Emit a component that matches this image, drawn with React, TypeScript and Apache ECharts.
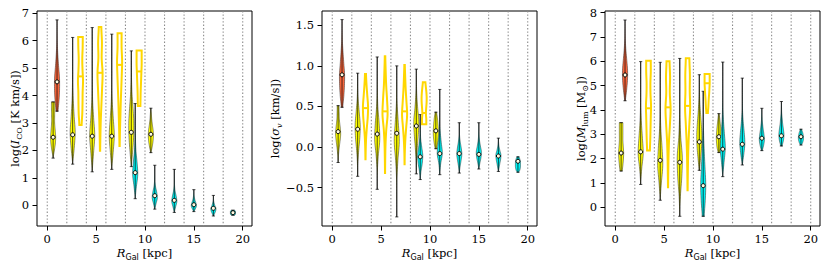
import React, { useEffect, useRef } from "react";
import * as echarts from "echarts";

// ---------- shared layout of the violins ----------
const violinX = [0.6, 1.0, 2.6, 3.4, 4.6, 5.4, 6.6, 7.4, 8.6, 9.0, 9.4, 10.6, 11.0, 13.0, 15.0, 17.0, 19.0];
const violinKind = ["yellow", "red", "yellow", "gold", "yellow", "gold", "yellow", "gold", "yellow", "cyan", "gold", "yellow", "cyan", "cyan", "cyan", "cyan", "cyan"];
const binEdges = [0, 2, 4, 6, 8, 10, 12, 14, 16, 18, 20];
const xTicks = [0, 5, 10, 15, 20];

// ---------- panel 1: log(I_CO) ----------
const icoMin = [1.72, 3.43, 1.5, 2.93, 1.22, 1.99, 1.31, 2.16, 1.41, 0.24, 3.62, 1.92, -0.14, -0.26, -0.23, -0.39, -0.36];
const icoMax = [3.77, 6.76, 6.12, 6.14, 6.48, 6.5, 6.24, 6.27, 5.63, 3.71, 5.64, 3.54, 1.46, 1.31, 0.57, 0.36, -0.18];
const icoMed = [2.48, 4.5, 2.57, 4.7, 2.52, 4.83, 2.52, 5.12, 2.66, 1.19, 4.88, 2.59, 0.35, 0.18, 0.02, -0.11, -0.27];
const icoShape = [
  [0, 0.45, 0.85, 1.0, 0.8, 0.6, 0.6, 0.65, 0.65],
  [0.4, 0.8, 1.0, 0.95, 0.6, 0.3, 0.1, 0.04, 0.02],
  [0.02, 0.6, 1.0, 0.6, 0.25, 0.08, 0.04, 0.02, 0.01],
  [0.45, 0.7, 0.8, 0.85, 1.0, 0.8, 0.7, 0.85, 0.9],
  [0.02, 0.5, 1.0, 0.55, 0.15, 0.05, 0.03, 0.02, 0.01],
  [0.05, 0.15, 0.3, 0.55, 0.8, 1.0, 0.65, 0.75, 0.5],
  [0.02, 0.55, 1.0, 0.6, 0.2, 0.06, 0.03, 0.02, 0.01],
  [0.05, 0.15, 0.3, 0.45, 0.65, 0.85, 1.0, 0.8, 0.8],
  [0.05, 0.5, 0.9, 1.0, 0.7, 0.3, 0.1, 0.04, 0.02],
  [0.02, 0.45, 1.0, 0.75, 0.3, 0.1, 0.04, 0.02, 0.01],
  [0.5, 0.55, 0.6, 0.7, 0.8, 0.9, 1.0, 1.0, 1.0],
  [0.1, 0.5, 0.85, 1.0, 0.9, 0.6, 0.35, 0.2, 0.05],
  [0.05, 0.5, 1.0, 0.8, 0.35, 0.1, 0.04, 0.02, 0.01],
  [0.05, 0.5, 1.0, 0.75, 0.3, 0.1, 0.04, 0.02, 0.01],
  [0.1, 0.6, 1.0, 0.85, 0.5, 0.25, 0.1, 0.04, 0.01],
  [0.1, 0.5, 0.9, 1.0, 0.6, 0.3, 0.1, 0.04, 0.01],
  [0.6, 0.9, 1.0, 1.0, 1.0, 1.0, 1.0, 0.9, 0.6],
];
const icoTicks = [0, 1, 2, 3, 4, 5, 6, 7];

// ---------- panel 2: log(sigma_v) ----------
const sigMin = [-0.19, 0.49, -0.36, -0.15, -0.52, -0.32, -0.86, -0.21, -0.33, -0.4, 0.28, -0.02, -0.34, -0.32, -0.27, -0.3, -0.31];
const sigMax = [0.51, 1.57, 0.91, 0.9, 1.11, 1.12, 1.0, 1.01, 0.96, 0.4, 0.8, 0.43, 0.71, 0.3, 0.3, 0.11, -0.12];
const sigMed = [0.19, 0.89, 0.22, 0.48, 0.16, 0.44, 0.17, 0.44, 0.26, -0.12, 0.42, 0.2, -0.08, -0.08, -0.09, -0.11, -0.175];
const sigShape = [
  [0.02, 0.15, 0.4, 0.75, 1.0, 0.8, 0.5, 0.4, 0.35],
  [0.3, 0.7, 0.95, 1.0, 0.7, 0.4, 0.15, 0.05, 0.02],
  [0.02, 0.1, 0.4, 0.85, 1.0, 0.6, 0.2, 0.06, 0.02],
  [0.03, 0.1, 0.25, 0.55, 0.9, 1.0, 0.7, 0.4, 0.2],
  [0.01, 0.05, 0.4, 1.0, 0.75, 0.25, 0.06, 0.02, 0.01],
  [0.02, 0.08, 0.2, 0.5, 1.0, 0.8, 0.45, 0.25, 0.1],
  [0.01, 0.02, 0.08, 0.45, 1.0, 0.6, 0.15, 0.04, 0.01],
  [0.02, 0.1, 0.3, 0.65, 1.0, 0.75, 0.45, 0.25, 0.1],
  [0.02, 0.1, 0.4, 0.8, 1.0, 0.55, 0.2, 0.05, 0.02],
  [0.03, 0.3, 0.8, 1.0, 0.6, 0.2, 0.06, 0.02, 0.01],
  [0.85, 0.85, 0.7, 0.8, 0.95, 1.0, 0.9, 0.7, 0.5],
  [0.3, 0.6, 0.85, 1.0, 1.0, 0.9, 0.75, 0.55, 0.3],
  [0.03, 0.35, 1.0, 0.6, 0.2, 0.06, 0.02, 0.01, 0.01],
  [0.03, 0.3, 0.7, 1.0, 0.75, 0.35, 0.1, 0.03, 0.01],
  [0.05, 0.4, 0.85, 1.0, 0.6, 0.25, 0.08, 0.03, 0.01],
  [0.05, 0.3, 0.6, 0.9, 1.0, 0.6, 0.25, 0.08, 0.02],
  [0.3, 0.7, 0.9, 1.0, 1.0, 1.0, 0.9, 0.7, 0.4],
];
const sigTicks = [-0.5, 0.0, 0.5, 1.0, 1.5];

// ---------- panel 3: log(M_lum) ----------
const mlumMin = [1.49, 4.38, 0.94, 2.33, 0.29, 0.82, -0.37, 0.7, 1.52, -0.37, 3.88, 2.25, 1.26, 1.74, 2.33, 2.52, 2.56];
const mlumMax = [3.48, 7.7, 5.99, 6.02, 5.96, 6.0, 6.12, 6.13, 5.45, 4.77, 5.48, 3.85, 5.97, 5.31, 4.07, 4.35, 3.21];
const mlumMed = [2.23, 5.44, 2.28, 4.07, 1.93, 4.11, 1.85, 4.17, 2.69, 0.89, 5.1, 2.9, 2.39, 2.59, 2.84, 2.94, 2.9];
const mlumShape = [
  [0.45, 0.7, 0.9, 1.0, 0.85, 0.7, 0.7, 0.7, 0.7],
  [0.15, 0.6, 0.95, 1.0, 0.7, 0.35, 0.12, 0.04, 0.01],
  [0.02, 0.4, 1.0, 0.7, 0.3, 0.08, 0.03, 0.02, 0.01],
  [0.55, 0.7, 0.8, 0.9, 1.0, 0.8, 0.75, 0.9, 0.9],
  [0.02, 0.45, 1.0, 0.75, 0.3, 0.07, 0.03, 0.02, 0.01],
  [0.03, 0.1, 0.2, 0.4, 0.75, 1.0, 0.7, 0.8, 0.6],
  [0.01, 0.25, 0.8, 1.0, 0.4, 0.1, 0.03, 0.02, 0.01],
  [0.03, 0.1, 0.2, 0.4, 0.7, 1.0, 0.85, 0.9, 0.7],
  [0.1, 0.5, 0.9, 1.0, 0.75, 0.4, 0.15, 0.05, 0.02],
  [0.4, 0.8, 1.0, 0.75, 0.45, 0.2, 0.06, 0.02, 0.01],
  [0.3, 0.45, 0.55, 0.65, 0.8, 0.9, 1.0, 1.0, 1.0],
  [0.3, 0.7, 0.9, 1.0, 0.9, 0.75, 0.55, 0.35, 0.15],
  [0.02, 0.5, 1.0, 0.65, 0.25, 0.06, 0.02, 0.01, 0.01],
  [0.05, 0.6, 1.0, 0.75, 0.35, 0.1, 0.03, 0.01, 0.01],
  [0.2, 0.7, 1.0, 0.85, 0.55, 0.3, 0.12, 0.05, 0.02],
  [0.3, 0.8, 1.0, 0.8, 0.5, 0.3, 0.12, 0.05, 0.02],
  [0.2, 0.6, 0.85, 1.0, 1.0, 0.9, 0.75, 0.5, 0.25],
];
const mlumTicks = [0, 1, 2, 3, 4, 5, 6, 7, 8];

// ---------- styling ----------
const HALF_WIDTH = 0.26; // kpc
const fillColors: Record<string, string> = {
  yellow: "#ffff00",
  red: "#f8663c",
  cyan: "#00f4f4",
};
const GOLD = "#ffd700";
const SERIF = "DejaVu Serif";
const FS = 11.5;

function catmull(vals: number[], sub: number): number[] {
  const out: number[] = [];
  const n = vals.length;
  for (let k = 0; k < n - 1; k++) {
    const p0 = vals[Math.max(0, k - 1)];
    const p1 = vals[k];
    const p2 = vals[k + 1];
    const p3 = vals[Math.min(n - 1, k + 2)];
    for (let s = 0; s < sub; s++) {
      const t = s / sub;
      const t2 = t * t;
      const t3 = t2 * t;
      const v =
        0.5 *
        (2 * p1 + (-p0 + p2) * t + (2 * p0 - 5 * p1 + 4 * p2 - p3) * t2 + (-p0 + 3 * p1 - 3 * p2 + p3) * t3);
      out.push(Math.max(0, v));
    }
  }
  out.push(vals[n - 1]);
  return out;
}

function widthAt(shape: number[], lo: number, hi: number, y: number): number {
  const n = shape.length;
  const f = ((y - lo) / (hi - lo)) * (n - 1);
  const k = Math.max(0, Math.min(n - 2, Math.floor(f)));
  const t = Math.max(0, Math.min(1, f - k));
  return shape[k] * (1 - t) + shape[k + 1] * t;
}

function violinSeries(gridIdx: number, mins: number[], maxs: number[], meds: number[], shapes: number[][]) {
  return {
    type: "custom",
    xAxisIndex: gridIdx,
    yAxisIndex: gridIdx,
    clip: true,
    z: 3,
    data: violinX.map((x, i) => [x, meds[i]]),
    encode: { x: 0, y: 1 },
    renderItem: (params: any, api: any) => {
      const i = params.dataIndex;
      const x = violinX[i];
      const kind = violinKind[i];
      const lo = mins[i];
      const hi = maxs[i];
      const med = meds[i];
      const shape = shapes[i];
      const hpx = api.size([HALF_WIDTH, 0])[0];
      const cx = api.coord([x, med])[0];
      const sub = 6;
      const ws = catmull(shape, sub);
      const m = ws.length;
      const left: number[][] = [];
      const right: number[][] = [];
      for (let j = 0; j < m; j++) {
        const y = lo + ((hi - lo) * j) / (m - 1);
        const py = api.coord([x, y])[1];
        left.push([cx - ws[j] * hpx, py]);
        right.push([cx + ws[j] * hpx, py]);
      }
      const pts = left.concat(right.reverse());
      const pyLo = api.coord([x, lo])[1];
      const pyHi = api.coord([x, hi])[1];
      const pyMed = api.coord([x, med])[1];
      const children: any[] = [];
      if (kind === "gold") {
        const wm = widthAt(shape, lo, hi, med) * hpx;
        children.push({
          type: "polygon",
          shape: { points: pts },
          style: { fill: "none", stroke: GOLD, lineWidth: 2 },
        });
        children.push({
          type: "line",
          shape: { x1: cx - wm, y1: pyMed, x2: cx + wm, y2: pyMed },
          style: { stroke: GOLD, lineWidth: 2 },
        });
      } else {
        children.push({
          type: "polygon",
          shape: { points: pts },
          style: { fill: fillColors[kind], stroke: "#222", lineWidth: 0.5 },
        });
        const ws2 = { stroke: "rgba(0,0,0,0.68)", lineWidth: 1.0 };
        children.push({ type: "line", shape: { x1: cx, y1: pyLo, x2: cx, y2: pyHi }, style: ws2 });
        children.push({ type: "line", shape: { x1: cx - 1.6, y1: pyLo, x2: cx + 1.6, y2: pyLo }, style: ws2 });
        children.push({ type: "line", shape: { x1: cx - 1.6, y1: pyHi, x2: cx + 1.6, y2: pyHi }, style: ws2 });
        children.push({
          type: "circle",
          shape: { cx, cy: pyMed, r: 2 },
          style: { fill: "#fffbe0", stroke: "#000", lineWidth: 1 },
        });
      }
      return { type: "group", children };
    },
  };
}

function gridLineSeries(gridIdx: number) {
  return {
    type: "custom",
    xAxisIndex: gridIdx,
    yAxisIndex: gridIdx,
    z: 1,
    silent: true,
    data: binEdges.map((x) => [x, 0]),
    encode: { x: 0 },
    renderItem: (params: any, api: any) => {
      const cs = params.coordSys;
      const px = api.coord([api.value(0), 0])[0];
      return {
        type: "line",
        shape: { x1: px, y1: cs.y, x2: px, y2: cs.y + cs.height },
        style: { stroke: "#8a8a8a", lineWidth: 1.1, lineDash: [1.4, 2.0] },
      };
    },
  };
}

const gridLefts = [37, 322, 605];
const yRanges = [
  [-0.755, 7.084],
  [-0.972, 1.676],
  [-0.769, 8.07],
];
const yTickSets = [icoTicks, sigTicks, mlumTicks];

const richBase = {
  n: { fontFamily: SERIF, fontSize: FS, lineHeight: 16, fill: "#000" },
  i: { fontFamily: SERIF, fontStyle: "italic", fontSize: FS, lineHeight: 16, fill: "#000" },
  s: { fontFamily: SERIF, fontSize: 8, lineHeight: 9, verticalAlign: "bottom", fill: "#000" },
  si: { fontFamily: SERIF, fontStyle: "italic", fontSize: 8, lineHeight: 9, verticalAlign: "bottom", fill: "#000" },
  ss: { fontFamily: "DejaVu Sans", fontSize: 8, lineHeight: 9, verticalAlign: "bottom", fill: "#000" },
};

const yNames = [
  "{n|log(}{i|I}{s|CO}{n| [K km/s])}",
  "{n|log(}{i|σ}{si|v}{n| [km/s])}",
  "{n|log(}{i|M}{s|lum}{n| [M}{s|⊙}{n|])}",
];
const yNameX = [15, 275, 581];
const xName = "{i|R}{ss|Gal}{n| [kpc]}";

export default function App() {
  const ref = useRef<HTMLDivElement>(null);
  useEffect(() => {
    if (!ref.current) return;
    const chart = echarts.init(ref.current, undefined, { renderer: "svg" });
    const grids = gridLefts.map((l) => ({
      left: l,
      top: 11,
      width: 215,
      height: 215,
      show: true,
      borderColor: "#000",
      borderWidth: 1,
      backgroundColor: "transparent",
    }));
    const xAxes = gridLefts.map((_, g) => ({
      type: "value",
      gridIndex: g,
      position: "bottom",
      min: -1.05,
      max: 20.95,
      axisLine: { show: false, onZero: false },
      splitLine: { show: false },
      axisTick: { show: true, customValues: xTicks, length: 4.5, lineStyle: { color: "#000", width: 1 } },
      axisLabel: { customValues: xTicks, color: "#000", fontFamily: SERIF, fontSize: FS, margin: 7 },
    }));
    const yAxes = gridLefts.map((_, g) => ({
      type: "value",
      gridIndex: g,
      position: "left",
      min: yRanges[g][0],
      max: yRanges[g][1],
      axisLine: { show: false, onZero: false },
      splitLine: { show: false },
      axisTick: { show: true, customValues: yTickSets[g], length: 4.5, lineStyle: { color: "#000", width: 1 } },
      axisLabel: {
        customValues: yTickSets[g],
        color: "#000",
        fontFamily: SERIF,
        fontSize: FS,
        margin: 8,
        formatter: (v: number) => (g === 1 ? v.toFixed(1) : String(Math.round(v))).replace("-", "\u2212"),
      },
    }));
    const graphic: any[] = [];
    gridLefts.forEach((l, g) => {
      graphic.push({
        type: "text",
        x: yNameX[g],
        y: 118.5,
        rotation: Math.PI / 2,
        style: { text: yNames[g], rich: richBase, align: "center", verticalAlign: "middle" },
      });
      graphic.push({
        type: "text",
        x: l + 107.5,
        y: 253,
        style: { text: xName, rich: richBase, align: "center", verticalAlign: "middle" },
      });
    });
    chart.setOption({
      animation: false,
      grid: grids,
      xAxis: xAxes,
      yAxis: yAxes,
      series: [
        gridLineSeries(0),
        gridLineSeries(1),
        gridLineSeries(2),
        violinSeries(0, icoMin, icoMax, icoMed, icoShape),
        violinSeries(1, sigMin, sigMax, sigMed, sigShape),
        violinSeries(2, mlumMin, mlumMax, mlumMed, mlumShape),
      ],
      graphic,
    });
    return () => chart.dispose();
  }, []);
  return (
    <div
      ref={ref}
      style={{ position: "fixed", left: 0, top: 0, width: 831, height: 268, background: "#fff" }}
    />
  );
}
